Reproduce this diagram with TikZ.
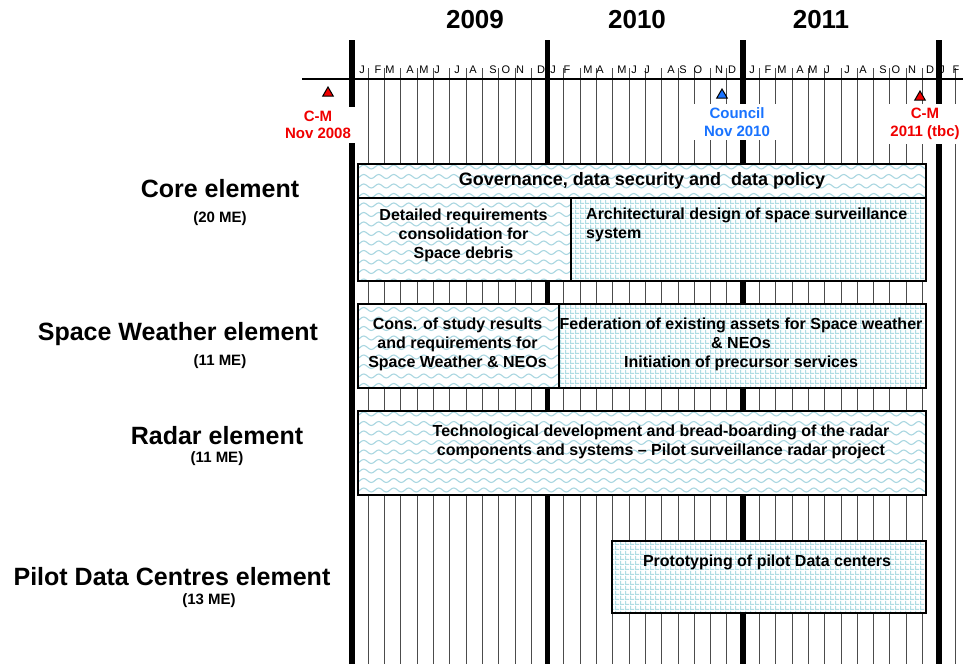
\documentclass[tikz,border=0pt]{standalone}
\usepackage{fontspec}
\setmainfont{Liberation Sans}
\usetikzlibrary{patterns.meta,shapes.geometric}

\definecolor{wavecol}{RGB}{170,215,225}
\definecolor{checkcol}{RGB}{175,220,227}
\definecolor{cmred}{RGB}{240,0,0}
\definecolor{cblue}{RGB}{25,115,255}

\tikzdeclarepattern{
  name=wavy,
  type=uncolored,
  bottom left={(-1pt,-1pt)},
  top right={(16pt,10.5pt)},
  tile size={(15pt,9.5pt)},
  code={\draw[line width=1.1pt] (0pt,3pt) sin (3.75pt,5pt) cos (7.5pt,3pt) sin (11.25pt,1pt) cos (15pt,3pt);}
}
\tikzdeclarepattern{
  name=checker,
  type=uncolored,
  bottom left={(0pt,0pt)},
  top right={(5pt,5pt)},
  tile size={(5pt,5pt)},
  code={\fill (0pt,0pt) rectangle (5pt,1.3pt); \fill (0pt,0pt) rectangle (1.3pt,5pt);}
}

\begin{document}
\begin{tikzpicture}[x=1pt,y=-1pt,
  yearlbl/.style={font=\bfseries\fontsize{26}{30}\selectfont, inner sep=0pt},
  monthlbl/.style={font=\fontsize{11}{13}\selectfont, inner sep=0pt},
  monthline/.style={black!70, line width=1pt},
  yearline/.style={black, line width=5.5pt},
  axisline/.style={black, line width=2pt},
  elemlbl/.style={font=\bfseries\fontsize{25}{30}\selectfont, inner sep=0pt},
  sublbl/.style={font=\bfseries\fontsize{15}{18}\selectfont, inner sep=0pt},
  boxtxt/.style={font=\bfseries\fontsize{16}{19}\selectfont, align=center, inner sep=0pt},
  basebox/.style={rectangle, draw=black, line width=1.5pt, inner sep=0pt, anchor=north west, preaction={fill=white}},
  wavebox/.style={basebox, pattern={wavy}, pattern color=wavecol},
  checkbox/.style={basebox, pattern={checker}, pattern color=checkcol},
  evtri/.style={regular polygon, regular polygon sides=3, minimum size=12pt, inner sep=0pt, draw=black, line width=1pt},
  evtxt/.style={font=\bfseries\fontsize{15}{17.5}\selectfont, align=center, fill=white, inner xsep=12pt, inner ysep=4pt}
]
\useasboundingbox (0,0) rectangle (963,664);
\fill[white] (0,0) rectangle (963,664);

% years
\node[yearlbl] (y2009) at (475,20) {2009};
\node[yearlbl] (y2010) at (637,20) {2010};
\node[yearlbl] (y2011) at (821,20) {2011};

% month grid lines
\foreach \k in {1,...,37} {
  \draw[monthline] ({352+16.3*\k},68) -- ({352+16.3*\k},664);
}
% axis
\draw[axisline] (302,79) -- (963,79);
% month letters
\foreach \x/\l [count=\i] in {362/J,378/F,390/M,410/A,424/M,437/J,457/J,473/A,493/S,506/O,520/N,541/D,
  553/J,567/F,588/M,600/A,622/M,634/J,647/J,671/A,683/S,698/O,719/N,732/D,
  752/J,768/F,782/M,800/A,813/M,827/J,847/J,863/A,883/S,896/O,912/N,930/D,942/J,956/F} {
  \node[monthlbl] (m\i) at (\x,70) {\l};
}
% year lines
\foreach \x in {352,547.6,743.2,938.8} {
  \draw[yearline] (\x,40) -- (\x,664);
}

% events
\node[evtri, fill=cmred] (tri1) at (328,93) {};
\node[evtri, fill=cblue] (tri2) at (722,95) {};
\node[evtri, fill=cmred] (tri3) at (920,97) {};
\node[evtxt, text=cmred] (ev1) at (318,125) {C-M\\Nov 2008};
\node[evtxt, text=cblue] (ev2) at (737,122) {Council\\Nov 2010};
\node[evtxt, text=cmred] (ev3) at (925,124) {C-M\\2011 (tbc)};

% element labels
\node[elemlbl] (core) at (220,189) {Core element};
\node[sublbl] (coreme) at (220,219) {(20 ME)};
\node[elemlbl] (sw) at (178,334) {Space Weather element};
\node[sublbl] (swme) at (220,362) {(11 ME)};
\node[elemlbl] (radar) at (217,436) {Radar element};
\node[sublbl] (radarme) at (217,459) {(11 ME)};
\node[elemlbl] (pdc) at (172,577) {Pilot Data Centres element};
\node[sublbl] (pdcme) at (209,601) {(13 ME)};

% boxes
\node[wavebox, minimum width=568pt, minimum height=34pt] (gov) at (357,163) {};
\node[wavebox, minimum width=213pt, minimum height=83pt] (det) at (357,197) {};
\node[checkbox, minimum width=355pt, minimum height=83pt] (arch) at (570,197) {};
\node[wavebox, minimum width=201pt, minimum height=84pt] (cons) at (357,303) {};
\node[checkbox, minimum width=367pt, minimum height=84pt] (fed) at (558,303) {};
\node[wavebox, minimum width=568pt, minimum height=84pt] (rad) at (357,410) {};
\node[checkbox, minimum width=314pt, minimum height=72pt] (proto) at (611,540) {};

% box texts
\node[boxtxt, font=\bfseries\fontsize{18}{21}\selectfont] (govt) at (642,181) {Governance, data security and\ \ data policy};
\node[boxtxt] (dett) at (463.5,235) {Detailed requirements\\consolidation for\\Space debris};
\node[boxtxt, align=left, anchor=west] (archt) at (586,225) {Architectural design of space surveillance\\system};
\node[boxtxt] (const) at (457.5,344) {Cons. of study results\\and requirements for\\Space Weather \& NEOs};
\node[boxtxt] (fedt) at (741,344) {Federation of existing assets for Space weather\\\& NEOs\\Initiation of precursor services};
\node[boxtxt] (radt) at (661,442) {Technological development and bread-boarding of the radar\\components and systems – Pilot surveillance radar project};
\node[boxtxt] (protot) at (767,562) {Prototyping of pilot Data centers};
\end{tikzpicture}
\end{document}
